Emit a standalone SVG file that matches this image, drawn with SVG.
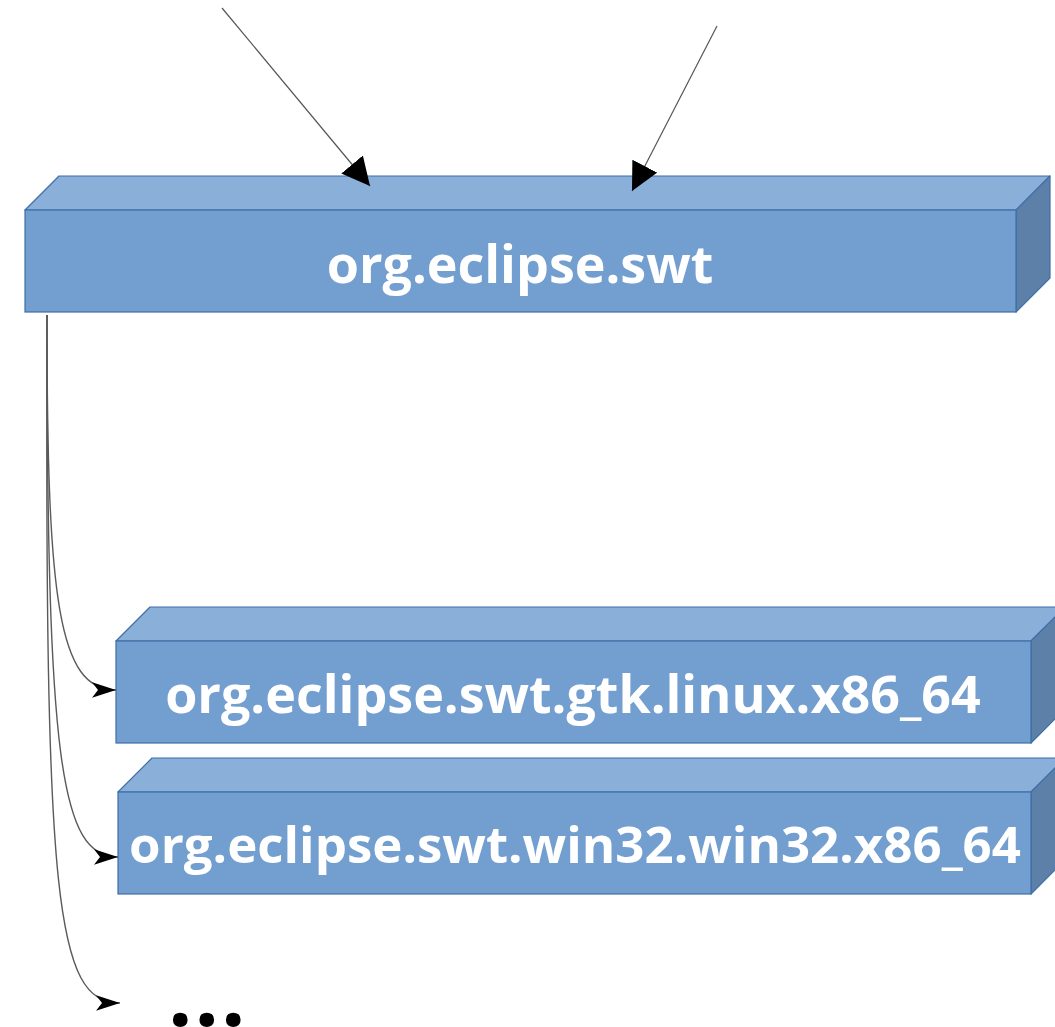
<svg xmlns="http://www.w3.org/2000/svg" width="1055" height="1027" viewBox="0 0 1055 1027">
  <style>
    .top { fill: #8aafd9; stroke: #3f6ea8; stroke-width: 1.2; stroke-linejoin: round; }
    .front { fill: #729fcf; stroke: #3f6ea8; stroke-width: 1.2; }
    .side { fill: #5c80a8; stroke: #3f6ea8; stroke-width: 1.2; stroke-linejoin: round; }
    .label { font-family: "Open Sans", "DejaVu Sans", sans-serif; font-weight: bold; font-size: 52px; fill: #ffffff; text-anchor: middle; }
    .edge { fill: none; stroke: #555555; stroke-width: 1.2; }
    .branch { fill: none; stroke: #5a5a5a; stroke-width: 1.4; }
    .dots { font-family: "Open Sans", "DejaVu Sans", sans-serif; font-weight: bold; font-size: 86px; fill: #000000; }
  </style>
  <defs>
    <marker id="block" viewBox="0 0 10 10" refX="10" refY="5" markerWidth="28" markerHeight="28" markerUnits="userSpaceOnUse" orient="auto">
      <path d="M0,0 L10,5 L0,10 Z" fill="#000000"/>
    </marker>
    <marker id="classic" viewBox="0 0 10 10" refX="10" refY="5" markerWidth="24" markerHeight="24" markerUnits="userSpaceOnUse" orient="auto">
      <path d="M0,1.8 L10,5 L0,8.2 L2.5,5 Z" fill="#000000"/>
    </marker>
  </defs>

  <!-- org.eclipse.swt -->
  <g id="node-swt">
    <polygon class="top" points="25,210 59,176 1050,176 1016,210"/>
    <polygon class="side" points="1016,210 1050,176 1050,278 1016,312"/>
    <rect class="front" x="25" y="210" width="991" height="102"/>
    <text class="label" x="520" y="283">org.eclipse.swt</text>
  </g>

  <!-- org.eclipse.swt.gtk.linux.x86_64 -->
  <g id="node-gtk">
    <polygon class="top" points="116,641 150,607 1065,607 1031,641"/>
    <polygon class="side" points="1031,641 1065,607 1065,709 1031,743"/>
    <rect class="front" x="116" y="641" width="915" height="102"/>
    <text class="label" x="573" y="713">org.eclipse.swt.gtk.linux.x86_64</text>
  </g>

  <!-- org.eclipse.swt.win32.win32.x86_64 -->
  <g id="node-win32">
    <polygon class="top" points="118,792 152,758 1065,758 1031,792"/>
    <polygon class="side" points="1031,792 1065,758 1065,860 1031,894"/>
    <rect class="front" x="118" y="792" width="913" height="102"/>
    <text class="label" x="575" y="863" style="font-size:51px">org.eclipse.swt.win32.win32.x86_64</text>
  </g>

  <!-- further fragments -->
  <g id="node-more">
    <text class="dots" x="168" y="1026" letter-spacing="2">...</text>
  </g>

  <g id="connectors">
    <line class="edge" x1="222" y1="8" x2="370" y2="186" marker-end="url(#block)"/>
    <line class="edge" x1="717" y1="26" x2="632" y2="191" marker-end="url(#block)"/>
    <path class="branch" d="M47,315 C47,600 58,690 116,690" marker-end="url(#classic)"/>
    <path class="branch" d="M47,315 C47,760 60,857 118,857" marker-end="url(#classic)"/>
    <path class="branch" d="M47,315 C45,900 55,1003 120,1003" marker-end="url(#classic)"/>
  </g>
</svg>
